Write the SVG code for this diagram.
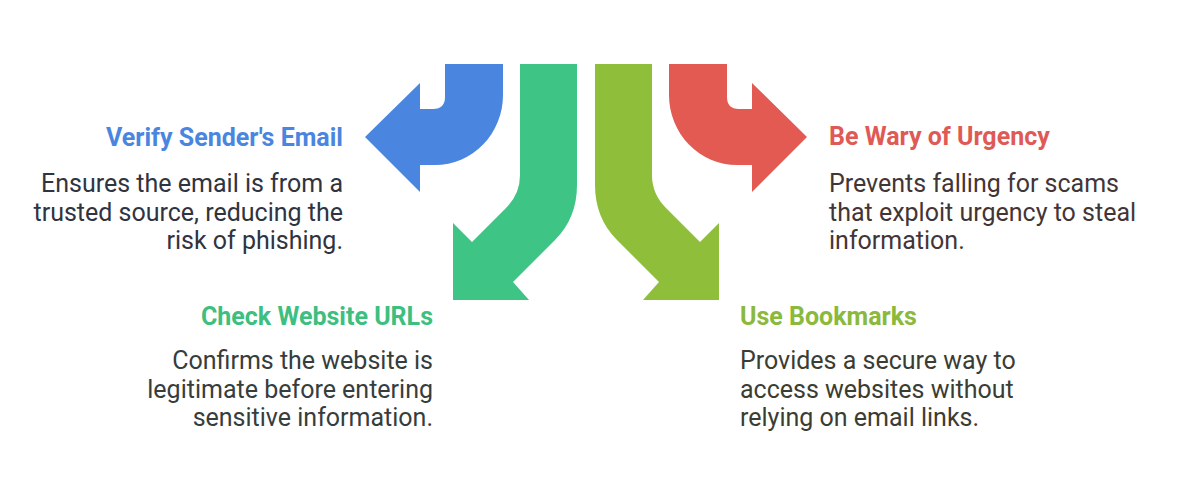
<svg xmlns="http://www.w3.org/2000/svg" width="1188" height="499" viewBox="0 0 1188 499">
<style>
.t{font-family:Roboto,"Liberation Sans",sans-serif;font-size:25px;font-weight:700}
.b{font-family:Roboto,"Liberation Sans",sans-serif;font-size:25px;font-weight:400}
.r{text-anchor:end}
</style>
<rect width="1188" height="499" fill="#ffffff"/>
<g id="connectors">
<path id="arrow-blue" fill="#4a86e0" d="M445 64 L503 64 L503 95 A68 70 0 0 1 435 165 L420 165 L420 192 L365 137 L420 83 L420 109 L433 109 Q445 109 445 97 Z"/>
<path id="arrow-red" fill="#e35a53" d="M727 64 L669 64 L669 95 A68 70 0 0 0 737 165 L752 165 L752 192 L807 137 L752 83 L752 109 L739 109 Q727 109 727 97 Z"/>
<path id="arrow-green" fill="#3ec585" d="M520 64 L577 64 L577 185 Q577 218 555 240 L513 282 L529 300 L453 300 L453 223 L472 242 L506 208 Q520 194 520 175 Z"/>
<path id="arrow-lime" fill="#8fbe3b" d="M652 64 L595 64 L595 185 Q595 218 617 240 L659 282 L643 300 L719 300 L719 223 L700 242 L666 208 Q652 194 652 175 Z"/>
</g>
<g id="node-verify">
<text class="t r" x="343" y="146" fill="#4a86e0">Verify Sender's Email</text>
<text class="b r" fill="#2f3440"><tspan x="343" y="192">Ensures the email is from a</tspan><tspan x="343" y="220.5">trusted source, reducing the</tspan><tspan x="343" y="249">risk of phishing.</tspan></text>
</g>
<g id="node-urgency">
<text class="t" x="829" y="145" fill="#e05a55">Be Wary of Urgency</text>
<text class="b" fill="#433536"><tspan x="829" y="192">Prevents falling for scams</tspan><tspan x="829" y="220.5">that exploit urgency to steal</tspan><tspan x="829" y="249">information.</tspan></text>
</g>
<g id="node-urls">
<text class="t r" x="433" y="325" fill="#3dbf80">Check Website URLs</text>
<text class="b r" fill="#363d3d"><tspan x="433" y="369">Confirms the website is</tspan><tspan x="433" y="397.5">legitimate before entering</tspan><tspan x="433" y="426">sensitive information.</tspan></text>
</g>
<g id="node-bookmarks">
<text class="t" x="740" y="325" fill="#8ab93b">Use Bookmarks</text>
<text class="b" fill="#3b3d33"><tspan x="740" y="369">Provides a secure way to</tspan><tspan x="740" y="397.5">access websites without</tspan><tspan x="740" y="426">relying on email links.</tspan></text>
</g>
</svg>
